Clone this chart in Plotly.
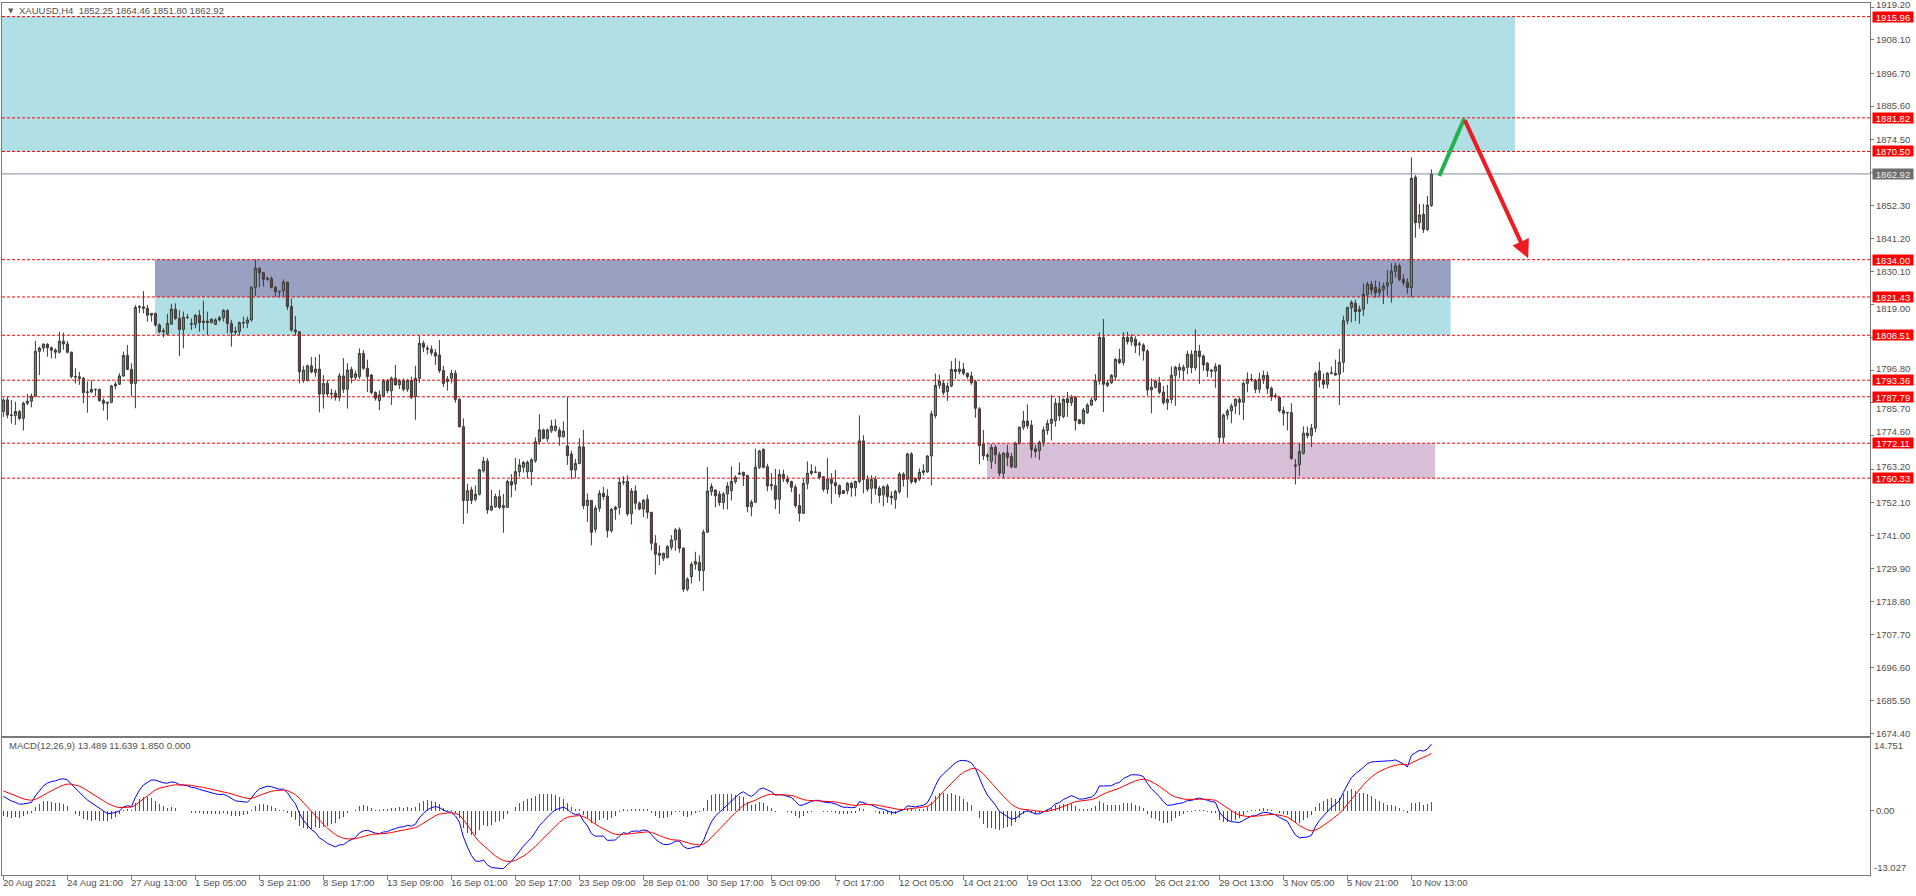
import plotly.graph_objects as go

# ---------------- data ----------------
opens = [
1782.8,1786.7,1781.6,1781.5,1782.8,1780.5,1785.6,1786.3,1788.0,1803.1,
1804.2,1805.5,1804.3,1803.5,1802.8,1806.5,1805.6,1802.8,1794.6,1794.5,
1794.0,1789.2,1789.4,1790.3,1790.2,1786.5,1785.6,1785.9,1791.4,1792.0,
1794.8,1801.7,1797.0,1792.3,1817.9,1818.1,1817.6,1815.3,1815.9,1812.0,
1809.7,1808.9,1812.3,1817.3,1814.2,1810.5,1814.6,1812.4,1812.2,1815.2,
1812.8,1813.3,1812.8,1812.2,1813.7,1814.4,1816.9,1812.5,1809.5,1809.8,
1812.8,1812.6,1813.7,1824.7,1831.1,1829.6,1827.4,1827.6,1824.7,1823.2,
1823.5,1826.4,1818.2,1810.3,1809.7,1793.2,1793.2,1798.2,1796.0,1797.1,
1788.7,1792.3,1788.7,1789.0,1787.6,1794.8,1790.3,1797.0,1794.3,1794.6,
1802.4,1797.4,1795.1,1789.2,1786.5,1788.0,1793.2,1789.8,1794.0,1791.8,
1793.2,1790.3,1793.2,1787.8,1794.0,1805.8,1804.2,1803.8,1802.6,1801.9,
1796.6,1793.7,1794.0,1795.7,1786.9,1777.7,1752.8,1756.4,1753.2,1754.9,
1762.8,1766.1,1749.6,1750.7,1754.1,1751.1,1750.5,1759.2,1758.4,1762.5,
1764.0,1762.5,1762.5,1766.2,1772.6,1776.6,1773.6,1776.3,1776.5,1776.5,
1774.3,1771.2,1768.5,1763.1,1765.3,1770.9,1751.1,1752.8,1743.1,1750.2,
1755.2,1754.3,1742.6,1749.8,1750.5,1758.9,1759.2,1748.3,1756.0,1751.9,
1749.9,1753.2,1748.8,1738.4,1735.0,1733.3,1733.6,1737.0,1739.5,1742.9,
1736.7,1722.9,1727.1,1731.3,1731.9,1729.2,1742.1,1755.8,1756.3,1755.0,
1752.1,1755.0,1756.1,1759.2,1761.7,1762.3,1761.2,1750.7,1752.2,1764.0,
1770.1,1764.2,1758.2,1757.8,1753.2,1761.6,1760.1,1759.2,1757.3,1751.1,
1748.5,1758.6,1762.0,1762.3,1762.3,1760.8,1756.6,1760.0,1758.8,1757.8,
1756.1,1756.1,1758.6,1757.1,1759.2,1772.9,1759.9,1756.9,1759.9,1756.9,
1754.7,1757.7,1754.3,1753.2,1755.8,1761.7,1760.0,1768.5,1760.3,1760.0,
1762.3,1762.5,1767.8,1781.4,1791.6,1792.3,1789.5,1791.4,1797.0,1796.3,
1797.1,1795.7,1794.8,1792.9,1783.7,1771.8,1768.1,1766.0,1770.7,1768.2,
1762.0,1768.9,1767.6,1764.0,1772.1,1777.5,1779.6,1778.2,1770.2,1769.6,
1772.4,1776.4,1778.8,1779.7,1785.6,1781.1,1787.1,1785.8,1787.6,1780.0,
1778.8,1782.4,1785.0,1786.7,1793.1,1807.8,1791.6,1792.5,1794.5,1800.4,
1799.3,1807.8,1806.4,1807.2,1805.3,1805.2,1803.2,1790.1,1791.0,1792.5,
1789.3,1785.8,1786.9,1795.0,1797.7,1796.6,1797.7,1802.1,1797.6,1803.2,
1801.5,1799.1,1796.8,1796.4,1798.4,1774.1,1781.6,1783.0,1784.7,1786.9,
1785.9,1792.3,1793.7,1793.2,1790.3,1793.7,1795.0,1790.6,1788.0,1787.6,
1783.1,1782.5,1782.4,1764.8,1764.8,1768.7,1775.5,1774.7,1777.2,1796.5,
1793.4,1792.0,1795.7,1795.7,1795.4,1799.4,1813.4,1817.8,1819.3,1816.5,
1817.3,1822.3,1825.7,1824.7,1822.9,1824.0,1825.1,1826.0,1830.1,1831.9,
1827.4,1826.3,1824.6,1861.8,1846.5,1849.3,1844.2,1852.25]

highs = [
1787.3,1787.8,1786.7,1786.1,1783.3,1786.1,1788.7,1788.9,1806.6,1804.7,
1805.8,1805.8,1804.7,1804.1,1809.7,1809.4,1806.6,1803.0,1797.4,1796.2,
1794.5,1792.9,1793.4,1790.5,1790.6,1787.3,1786.1,1791.8,1792.9,1795.7,
1803.0,1805.2,1799.1,1818.7,1818.7,1823.4,1818.7,1816.0,1816.1,1812.5,
1810.9,1815.7,1819.1,1819.3,1817.0,1816.5,1815.7,1814.2,1815.7,1817.0,
1820.2,1816.5,1814.2,1814.2,1815.0,1817.3,1817.3,1813.7,1811.4,1813.1,
1814.8,1814.8,1824.9,1834.1,1831.4,1829.8,1828.3,1828.3,1825.1,1823.4,
1827.4,1826.6,1821.0,1815.0,1809.9,1798.2,1798.6,1801.2,1801.2,1802.1,
1795.1,1793.4,1790.4,1790.0,1795.8,1800.8,1799.1,1797.9,1796.6,1804.1,
1803.5,1800.3,1795.5,1789.6,1789.9,1793.8,1793.8,1794.6,1798.5,1793.8,
1794.0,1793.8,1794.6,1798.2,1808.6,1806.7,1805.1,1805.1,1803.8,1806.9,
1798.2,1794.8,1796.8,1796.8,1787.3,1780.5,1758.4,1757.4,1757.9,1763.5,
1767.5,1767.1,1756.4,1755.1,1756.4,1755.0,1759.8,1761.7,1767.1,1766.8,
1766.1,1766.3,1767.2,1774.1,1781.9,1777.0,1777.1,1780.0,1780.2,1777.5,
1779.5,1787.6,1769.6,1766.8,1773.8,1776.6,1755.2,1753.0,1751.2,1756.3,
1757.4,1756.6,1750.3,1751.0,1760.6,1761.0,1761.3,1757.0,1757.9,1752.5,
1753.4,1754.8,1749.0,1741.1,1737.7,1735.2,1737.8,1741.1,1743.5,1743.7,
1737.1,1726.9,1732.1,1735.5,1734.3,1743.0,1764.1,1758.6,1756.6,1756.0,
1755.6,1759.0,1764.3,1761.3,1765.6,1762.5,1761.5,1753.0,1770.3,1769.9,
1770.3,1765.2,1762.0,1763.5,1763.2,1763.2,1761.3,1759.5,1758.2,1755.0,
1760.0,1766.0,1765.0,1764.3,1762.5,1761.0,1767.1,1762.0,1763.1,1758.2,
1756.3,1759.0,1759.1,1759.5,1781.5,1774.8,1761.3,1761.3,1761.0,1757.7,
1757.9,1758.4,1755.9,1756.4,1762.3,1762.3,1768.9,1769.1,1760.5,1763.6,
1765.0,1768.1,1783.1,1795.6,1795.2,1793.4,1792.6,1799.8,1800.8,1799.8,
1799.2,1795.9,1796.2,1793.4,1784.3,1776.6,1768.8,1771.8,1771.5,1769.2,
1769.2,1771.6,1768.8,1772.6,1777.7,1783.0,1785.2,1779.9,1771.5,1773.0,
1777.7,1780.0,1788.4,1787.3,1787.8,1787.3,1789.4,1788.4,1788.0,1780.3,
1784.0,1785.6,1787.8,1795.4,1809.5,1814.0,1793.4,1795.4,1800.8,1804.0,
1809.6,1809.7,1808.9,1808.2,1806.4,1805.8,1803.8,1794.0,1793.6,1794.5,
1791.4,1791.8,1798.0,1798.2,1799.1,1798.6,1803.3,1803.5,1810.5,1805.3,
1802.1,1799.5,1797.0,1799.1,1798.6,1782.1,1783.7,1785.5,1787.3,1787.6,
1792.9,1796.0,1795.5,1793.9,1795.9,1796.6,1796.3,1791.2,1789.0,1788.1,
1784.4,1782.6,1785.6,1766.8,1772.1,1777.8,1777.7,1778.6,1796.3,1799.5,
1795.7,1796.1,1798.0,1800.3,1803.9,1815.1,1818.2,1820.3,1820.5,1818.5,
1826.0,1826.6,1826.8,1827.0,1826.6,1826.3,1830.5,1832.8,1833.0,1832.7,
1829.1,1827.7,1868.5,1862.5,1852.8,1852.8,1855.5,1864.46]

lows = [
1781.0,1780.5,1778.8,1778.3,1779.9,1776.4,1785.0,1784.2,1787.6,1795.1,
1803.0,1801.3,1800.7,1800.7,1802.4,1803.6,1802.4,1794.0,1792.3,1791.8,
1785.6,1782.4,1789.0,1788.0,1786.1,1783.1,1780.0,1785.6,1790.3,1791.8,
1794.5,1796.8,1787.8,1783.9,1816.0,1815.9,1813.1,1813.1,1811.4,1809.2,
1807.8,1808.6,1812.0,1813.7,1801.5,1804.1,1813.9,1810.3,1810.9,1809.7,
1810.3,1808.6,1812.5,1812.0,1813.1,1813.1,1809.2,1804.7,1808.6,1808.6,
1810.9,1810.9,1813.1,1821.8,1824.7,1824.9,1826.9,1824.3,1821.5,1821.5,
1821.7,1817.0,1809.7,1808.3,1792.3,1792.5,1793.0,1795.7,1794.5,1782.5,
1783.8,1787.6,1787.0,1786.5,1786.3,1789.0,1783.8,1792.3,1793.4,1793.8,
1796.8,1789.4,1788.7,1786.5,1783.3,1787.6,1789.0,1785.0,1791.5,1790.4,
1789.6,1789.4,1787.0,1780.0,1792.5,1802.8,1802.0,1801.7,1798.5,1795.8,
1791.1,1789.8,1792.3,1785.8,1777.4,1744.9,1748.5,1751.6,1752.5,1754.5,
1762.2,1748.3,1749.2,1750.3,1749.9,1741.9,1750.3,1753.9,1756.1,1760.8,
1762.2,1760.3,1757.9,1765.5,1771.6,1773.4,1772.6,1775.6,1776.0,1771.3,
1774.0,1764.8,1760.0,1760.3,1765.0,1749.9,1745.6,1737.7,1742.0,1749.0,
1753.0,1740.3,1742.0,1746.3,1748.0,1758.0,1747.5,1744.7,1749.8,1749.5,
1747.2,1746.7,1736.0,1727.8,1731.0,1732.4,1733.3,1736.1,1735.8,1735.2,
1722.0,1722.2,1724.8,1729.5,1725.6,1722.3,1741.9,1754.4,1750.5,1751.0,
1749.8,1749.8,1752.8,1758.4,1761.4,1757.7,1748.8,1747.5,1751.9,1763.4,
1763.6,1755.9,1756.2,1749.9,1748.3,1759.0,1758.4,1755.6,1750.3,1745.7,
1748.3,1756.6,1761.3,1762.0,1759.9,1755.8,1755.0,1751.7,1755.0,1753.8,
1755.0,1754.9,1754.1,1754.2,1758.6,1755.2,1755.8,1751.7,1754.7,1752.0,
1750.8,1752.0,1751.4,1750.0,1755.1,1757.5,1753.8,1758.4,1758.5,1759.4,
1761.3,1762.1,1757.9,1780.5,1790.5,1788.3,1786.4,1791.0,1793.8,1795.4,
1795.0,1793.8,1791.8,1780.7,1765.0,1766.5,1766.2,1763.5,1765.0,1761.0,
1760.3,1764.4,1763.6,1763.8,1771.6,1776.6,1777.0,1767.2,1767.3,1766.5,
1771.0,1775.0,1773.0,1777.7,1779.7,1780.5,1781.0,1784.7,1776.4,1778.5,
1778.4,1782.0,1784.6,1786.2,1791.9,1782.6,1791.0,1792.1,1793.2,1798.8,
1798.3,1805.4,1805.0,1802.5,1801.6,1800.0,1788.2,1782.2,1790.5,1788.6,
1785.1,1783.3,1785.5,1784.7,1794.0,1793.4,1795.4,1795.7,1796.6,1792.1,
1796.5,1794.5,1794.2,1790.8,1772.2,1772.2,1780.1,1778.8,1782.0,1781.6,
1779.9,1789.3,1792.8,1789.0,1789.0,1792.1,1788.8,1786.4,1787.2,1782.5,
1778.0,1776.4,1766.5,1758.2,1761.0,1768.3,1773.7,1770.8,1775.8,1790.9,
1790.5,1790.6,1795.3,1794.9,1785.0,1796.0,1812.2,1812.9,1813.3,1812.4,
1815.0,1819.1,1822.2,1821.2,1821.8,1819.0,1821.9,1819.5,1828.0,1826.8,
1825.3,1822.5,1821.3,1841.4,1844.5,1843.0,1843.6,1851.80]

closes = [
1786.7,1781.6,1781.5,1782.8,1780.5,1785.6,1786.3,1788.0,1803.1,1804.2,
1805.5,1804.3,1803.5,1802.8,1806.5,1805.6,1802.8,1794.6,1794.5,1794.0,
1789.2,1789.4,1790.3,1790.2,1786.5,1785.6,1785.9,1791.4,1792.0,1794.8,
1801.7,1797.0,1792.3,1817.9,1818.1,1817.6,1815.3,1815.9,1812.0,1809.7,
1810.0,1812.5,1817.3,1814.2,1810.5,1814.6,1814.5,1812.2,1815.2,1812.8,
1813.3,1812.8,1813.9,1813.7,1814.4,1816.9,1812.5,1809.5,1809.8,1812.8,
1812.7,1813.7,1824.7,1831.1,1829.6,1827.4,1827.6,1824.7,1823.2,1823.3,
1826.4,1818.2,1810.3,1809.7,1796.2,1796.8,1798.2,1796.2,1797.1,1788.7,
1792.3,1788.7,1788.9,1787.6,1794.8,1790.3,1796.8,1794.3,1795.5,1802.4,
1797.4,1794.6,1789.2,1787.3,1788.4,1793.2,1789.8,1794.0,1791.8,1793.2,
1790.3,1793.2,1787.6,1794.0,1805.8,1804.5,1803.9,1802.6,1801.5,1796.6,
1792.3,1792.9,1795.7,1786.9,1777.7,1752.8,1756.1,1752.8,1754.9,1763.1,
1766.1,1749.6,1750.9,1754.1,1750.5,1750.4,1759.2,1758.0,1762.5,1764.8,
1765.6,1765.7,1766.5,1772.6,1776.6,1773.8,1776.6,1777.9,1777.9,1774.3,
1776.2,1767.9,1763.1,1765.3,1770.9,1751.1,1752.9,1742.1,1750.2,1755.2,
1754.1,1742.6,1749.8,1750.5,1758.9,1759.0,1748.3,1756.0,1751.9,1749.9,
1752.8,1748.8,1738.4,1734.7,1734.3,1735.0,1737.2,1739.5,1742.9,1736.7,
1722.9,1726.3,1731.3,1732.2,1729.2,1742.1,1756.0,1757.5,1754.4,1752.1,
1755.0,1757.7,1759.2,1760.6,1762.0,1761.2,1750.7,1752.2,1764.0,1769.5,
1764.0,1757.7,1757.8,1753.2,1761.6,1760.1,1759.2,1757.3,1751.1,1748.5,
1758.6,1762.0,1762.7,1762.4,1760.6,1756.6,1760.0,1758.6,1757.8,1754.9,
1755.2,1758.6,1757.1,1759.2,1772.9,1759.9,1756.6,1759.9,1756.9,1754.5,
1757.4,1754.1,1753.8,1755.8,1761.7,1759.9,1768.5,1759.1,1759.1,1762.3,
1762.8,1767.8,1782.0,1791.6,1793.1,1789.2,1791.4,1797.0,1796.3,1797.1,
1795.7,1794.6,1792.5,1783.9,1771.3,1767.9,1767.6,1770.7,1768.2,1762.0,
1768.7,1767.4,1764.2,1772.1,1777.5,1779.6,1778.0,1770.0,1769.3,1772.4,
1776.6,1778.8,1780.2,1785.6,1781.3,1786.9,1785.8,1787.6,1779.7,1778.8,
1783.3,1785.0,1786.7,1793.1,1807.8,1792.0,1792.5,1795.0,1800.4,1799.3,
1807.8,1806.4,1807.8,1805.0,1805.6,1803.2,1790.1,1791.0,1793.1,1789.3,
1785.8,1786.9,1795.0,1797.7,1796.8,1797.7,1802.1,1797.6,1803.2,1801.3,
1798.5,1796.6,1796.4,1797.9,1774.1,1781.6,1783.0,1784.7,1786.9,1785.9,
1792.3,1793.7,1793.6,1790.3,1793.7,1795.0,1790.6,1787.8,1788.1,1783.1,
1782.2,1782.4,1767.0,1764.4,1769.3,1775.5,1774.7,1777.2,1795.7,1793.4,
1792.0,1795.7,1795.8,1795.1,1799.4,1813.4,1817.8,1819.6,1816.5,1817.3,
1822.3,1825.7,1823.8,1822.9,1824.0,1825.1,1826.2,1830.1,1831.9,1827.4,
1826.3,1824.6,1861.4,1846.5,1849.1,1844.2,1852.4,1862.92]

time_labels = ["20 Aug 2021", "24 Aug 21:00", "27 Aug 13:00", "1 Sep 05:00",
               "3 Sep 21:00", "8 Sep 17:00", "13 Sep 09:00", "16 Sep 01:00",
               "20 Sep 17:00", "23 Sep 09:00", "28 Sep 01:00", "30 Sep 17:00",
               "5 Oct 09:00", "7 Oct 17:00", "12 Oct 05:00", "14 Oct 21:00",
               "19 Oct 13:00", "22 Oct 05:00", "26 Oct 21:00", "29 Oct 13:00",
               "3 Nov 05:00", "5 Nov 21:00", "10 Nov 13:00"]
bars_per_label = 16

# price scale ticks; the two hidden behind level boxes carry no visible label
price_ticks = [1919.20, 1908.10, 1896.70, 1885.60, 1874.50, 1863.40, 1852.30,
               1841.20, 1830.10, 1819.00, 1807.90, 1796.80, 1785.70, 1774.60,
               1763.20, 1752.10, 1741.00, 1729.90, 1718.80, 1707.70, 1696.60,
               1685.50, 1674.40]
hidden_tick_labels = [1863.40, 1807.90]

level_lines = [1915.96, 1881.82, 1870.50, 1834.00, 1821.43, 1808.51,
               1793.36, 1787.79, 1772.11, 1760.33]
current_price = 1862.92

# zones: (bar_from, bar_to, price_low, price_high, color)
zones = [
    (-5.0, 377.9, 1870.50, 1915.96, "#B0DFE5"),
    (37.9, 361.8, 1808.51, 1834.00, "#B0DFE5"),
    (37.9, 361.8, 1821.43, 1834.00, "#99A1C3"),
    (245.9, 357.9, 1760.33, 1772.11, "#D7BFD7"),
]

# hand-drawn forecast path (bar position, price)
forecast_bars = [358.97, 365.2, 381.2]
forecast_prices = [1862.2, 1881.5, 1834.5]

header_text = "XAUUSD,H4  1852.25 1864.46 1851.80 1862.92"
macd_text = "MACD(12,26,9) 13.489 11.639 1.850 0.000"
macd_range = (-13.027, 14.751)
# state of the MACD(12,26,9) averages just before the first visible bar
macd_seed = (1785.0, 1782.0, 4.3)

# ---------------- derived ----------------
n = len(closes)
assert len(opens) == n and len(highs) == n and len(lows) == n
idx = list(range(n))

e12, e26, sig = macd_seed
macd_line, signal_line, hist = [], [], []
for c in closes:
    e12 += (2 / 13) * (c - e12)
    e26 += (2 / 27) * (c - e26)
    m = e12 - e26
    sig += (2 / 10) * (m - sig)
    macd_line.append(m)
    signal_line.append(sig)
    hist.append(m - sig)

FONT = "Liberation Sans, Arial, sans-serif"
TXT = "#505050"
FRAME = "#7A7A7A"

y_range = [1673.39, 1920.55]
main_dom = [0.1594, 1.0]
macd_dom = [0.0, 0.1571]
plot_h = 896 - 3 - 21
px_per_unit = plot_h * (main_dom[1] - main_dom[0]) / (y_range[1] - y_range[0])

fig = go.Figure()

fig.add_trace(go.Candlestick(
    x=idx, open=opens, high=highs, low=lows, close=closes,
    increasing=dict(line=dict(color="#3A3A3A", width=1), fillcolor="#25C52B"),
    decreasing=dict(line=dict(color="#3A3A3A", width=1), fillcolor="#D9141B"),
    whiskerwidth=0, xaxis="x", yaxis="y", hoverinfo="skip", showlegend=False))

fig.add_trace(go.Bar(
    x=idx, y=hist, width=0.28,
    marker=dict(color=["#1F7A1F" if h >= 0 else "#FF0000" for h in hist],
                line=dict(width=0)),
    xaxis="x2", yaxis="y2", hoverinfo="skip", showlegend=False))
fig.add_trace(go.Scatter(x=idx, y=macd_line, mode="lines",
                         line=dict(color="#0000FF", width=1),
                         xaxis="x2", yaxis="y2", hoverinfo="skip", showlegend=False))
fig.add_trace(go.Scatter(x=idx, y=signal_line, mode="lines",
                         line=dict(color="#FF0000", width=1),
                         xaxis="x2", yaxis="y2", hoverinfo="skip", showlegend=False))

shapes = []
for x0, x1, y0, y1, col in zones:
    shapes.append(dict(type="rect", xref="x", yref="y", x0=x0, x1=x1, y0=y0, y1=y1,
                       fillcolor=col, line=dict(width=0), layer="below"))
for v in level_lines:
    shapes.append(dict(type="line", xref="paper", yref="y", x0=0, x1=1, y0=v, y1=v,
                       line=dict(color="#FF0000", width=1, dash="3px,2px"), layer="above"))
shapes.append(dict(type="line", xref="paper", yref="y", x0=0, x1=1,
                   y0=current_price, y1=current_price,
                   line=dict(color="#778899", width=1), layer="above"))
shapes.append(dict(type="line", xref="x", yref="y",
                   x0=forecast_bars[0], y0=forecast_prices[0],
                   x1=forecast_bars[1], y1=forecast_prices[1],
                   line=dict(color="#22B14C", width=4), layer="above"))

annotations = []
# red price arrow
annotations.append(dict(x=forecast_bars[2], y=forecast_prices[2], xref="x", yref="y",
                        ax=forecast_bars[1], ay=forecast_prices[1], axref="x", ayref="y",
                        text="", showarrow=True, arrowhead=2, arrowsize=0.9,
                        arrowwidth=4, arrowcolor="#ED1C24", standoff=0))

# price scale labels (nudged just clear of the level boxes)
boxes = level_lines + [current_price]
min_gap = 12.0
for v in price_ticks:
    if v in hidden_tick_labels:
        continue
    shift = 0.0
    for b in boxes:
        d = (b - v) * px_per_unit
        if abs(d) < min_gap:
            shift = -(min_gap - d) if d > 0 else (min_gap + d)
    annotations.append(dict(x=1, xref="paper", y=v, yref="y", xanchor="left",
                            yanchor="middle", xshift=5, yshift=shift,
                            text=f"{v:.2f}", showarrow=False, borderpad=0,
                            font=dict(family=FONT, size=9.5, color=TXT)))

# level labels on the price scale
for v in level_lines:
    annotations.append(dict(x=1, xref="paper", y=v, yref="y", xanchor="left",
                            yanchor="middle", xshift=2, text=f"{v:.2f}",
                            showarrow=False, bgcolor="#FF0000", borderpad=0,
                            width=40, height=10,
                            font=dict(family=FONT, size=9.5, color="#FFFFFF")))
annotations.append(dict(x=1, xref="paper", y=current_price, yref="y", xanchor="left",
                        yanchor="middle", xshift=2, text=f"{current_price:.2f}",
                        showarrow=False, bgcolor="#6E6E6E", borderpad=0,
                        width=40, height=10,
                        font=dict(family=FONT, size=9.5, color="#F0F0F0")))
# header
annotations.append(dict(x=0, xref="paper", y=1, yref="paper", xanchor="left",
                        yanchor="top", xshift=4, yshift=-2, text="▼", showarrow=False,
                        font=dict(family="DejaVu Sans", size=7, color="#606060")))
annotations.append(dict(x=0, xref="paper", y=1, yref="paper", xanchor="left",
                        yanchor="top", xshift=15, yshift=0, text=header_text,
                        showarrow=False, font=dict(family=FONT, size=9.5, color=TXT)))
# MACD label and scale
annotations.append(dict(x=0, xref="paper", y=1, yref="y2 domain", xanchor="left",
                        yanchor="top", xshift=5, yshift=0, text=macd_text,
                        showarrow=False, font=dict(family=FONT, size=9.5, color=TXT)))
annotations.append(dict(x=1, xref="paper", y=1, yref="y2 domain", xanchor="left",
                        yanchor="top", xshift=2, yshift=0, text=f"{macd_range[1]:.3f}",
                        showarrow=False, font=dict(family=FONT, size=9.5, color=TXT)))
annotations.append(dict(x=1, xref="paper", y=0, yref="y2 domain", xanchor="left",
                        yanchor="bottom", xshift=2, yshift=0, text=f"{macd_range[0]:.3f}",
                        showarrow=False, font=dict(family=FONT, size=9.5, color=TXT)))
# time labels
label_bars = [i * bars_per_label for i in range(len(time_labels))]
for b, t in zip(label_bars, time_labels):
    annotations.append(dict(x=b, xref="x2", y=0, yref="paper", xanchor="left",
                            yanchor="top", xshift=-2, yshift=0, text=t,
                            showarrow=False, font=dict(family=FONT, size=9.5, color=TXT)))

xr = [-0.35, 466.65]

fig.update_layout(
    width=1916, height=896,
    margin=dict(l=2, r=46, t=3, b=21, pad=0),
    paper_bgcolor="#FFFFFF", plot_bgcolor="#FFFFFF",
    showlegend=False, hovermode=False, bargap=0, boxgap=0.25,
    font=dict(family=FONT, size=9.5, color=TXT),
    xaxis=dict(domain=[0, 1], anchor="y", range=xr, showgrid=False, zeroline=False,
               showticklabels=False, ticks="", showline=True, mirror=True,
               linecolor=FRAME, linewidth=1, rangeslider=dict(visible=False),
               fixedrange=True),
    yaxis=dict(domain=main_dom, anchor="x", range=y_range, side="right",
               showgrid=False, zeroline=False, showline=True, mirror=True,
               linecolor=FRAME, linewidth=1, ticks="outside", ticklen=3,
               tickcolor=FRAME, tickvals=price_ticks, showticklabels=False),
    xaxis2=dict(domain=[0, 1], anchor="y2", range=xr, matches="x", showgrid=False,
                zeroline=False, showticklabels=False, ticks="outside", ticklen=4,
                tickcolor=FRAME, tickvals=label_bars, showline=True, mirror=True,
                linecolor=FRAME, linewidth=1),
    yaxis2=dict(domain=macd_dom, anchor="x2", range=list(macd_range), side="right",
                showgrid=False, zeroline=False, showline=True, mirror=True,
                linecolor=FRAME, linewidth=1, ticks="outside", ticklen=3,
                tickcolor=FRAME, tickvals=[0], ticktext=["0.00"],
                tickfont=dict(family=FONT, size=9.5, color=TXT)),
    shapes=shapes,
    annotations=annotations,
)

fig.write_html("out.html", config={"displayModeBar": False, "staticPlot": True},
               post_script="document.body.style.margin='0';document.body.style.overflow='hidden';")
